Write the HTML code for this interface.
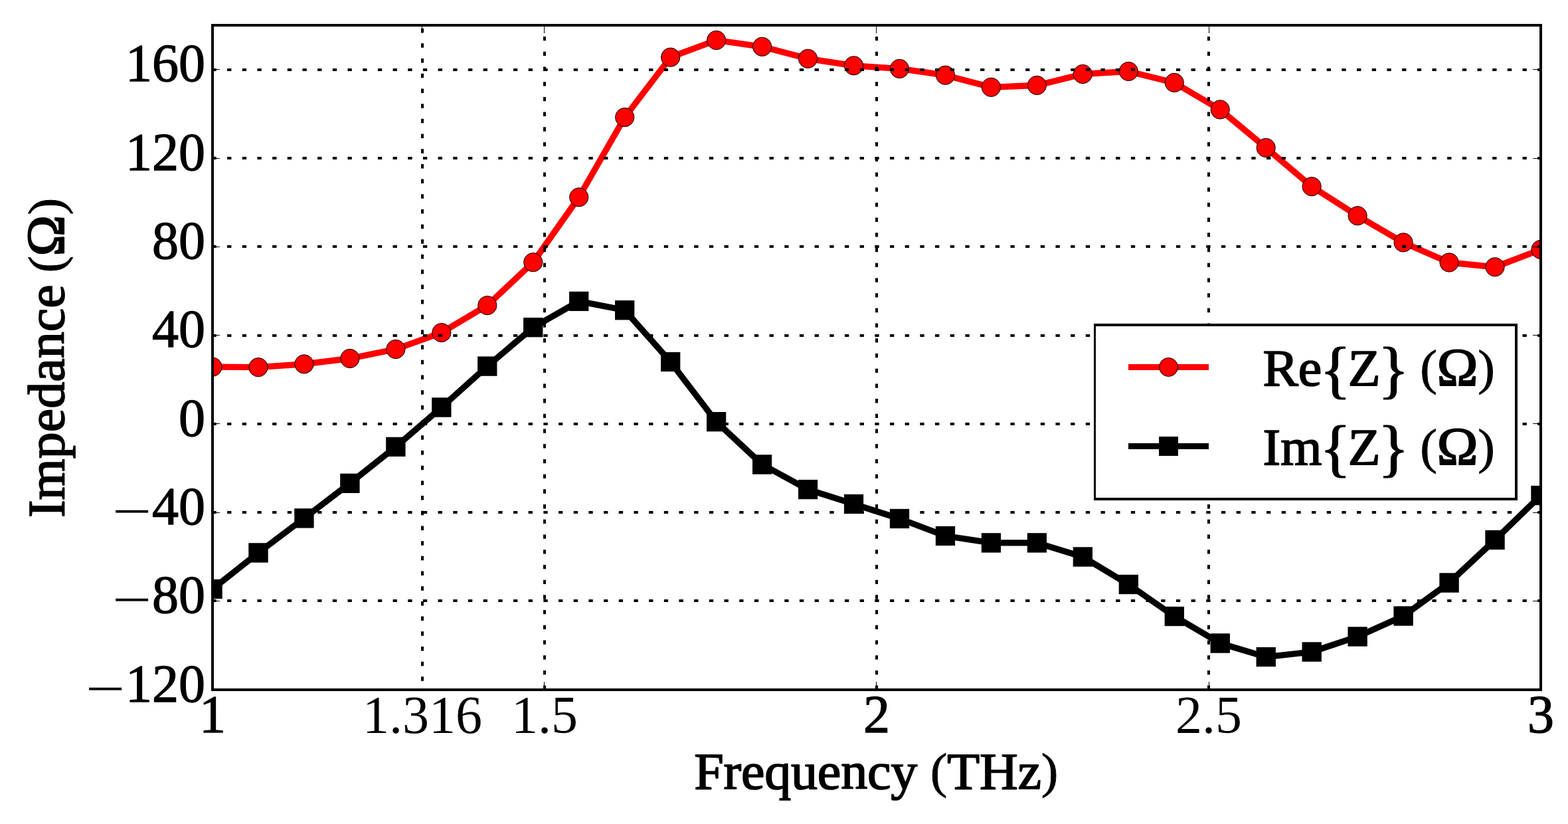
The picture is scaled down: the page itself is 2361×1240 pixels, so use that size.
<!DOCTYPE html>
<html lang="en"><head><meta charset="utf-8"><title>Impedance vs Frequency</title>
<style>
html,body{margin:0;padding:0;background:#fff;}
body{width:2361px;height:1240px;overflow:hidden;}
svg{display:block;}
text{font-family:"Liberation Serif","DejaVu Serif",serif;font-size:80px;fill:#000;}
.b{stroke:#000;stroke-width:1.8px;stroke-linejoin:round;}
.t{stroke:#000;stroke-width:1.3px;stroke-linejoin:round;}
.mn{font-family:"DejaVu Sans","Liberation Sans",sans-serif;font-weight:200;font-size:77px;stroke-width:0.8px;}
.om{font-size:83px;stroke-width:2.2px;}
.br{font-size:99px;stroke-width:1.2px;}
.pa{font-size:77px;stroke-width:0.9px;}
</style></head><body>
<svg width="2361" height="1240" viewBox="0 0 2361 1240">
<rect x="0" y="0" width="2361" height="1240" fill="#ffffff"/>
<defs><clipPath id="ax"><rect x="320" y="38" width="2000" height="1000"/></clipPath></defs>
<g clip-path="url(#ax)">
<polyline points="320,552.2 388.97,552.7 457.93,547.9 526.9,539.5 595.86,525.5 664.83,500.6 733.79,459.6 802.76,394.7 871.72,296.8 940.69,176.5 1009.66,86.2 1078.62,60.5 1147.59,70.3 1216.55,88.3 1285.52,98.8 1354.48,103.4 1423.45,113.2 1492.41,131.3 1561.38,128.4 1630.34,111.5 1699.31,107.4 1768.28,124.4 1837.24,164.9 1906.21,222.4 1975.17,280.7 2044.14,324.7 2113.1,364.9 2182.07,395 2251.03,401.8 2320,375.5" fill="none" stroke="#ff0000" stroke-width="9.3" stroke-linejoin="round" stroke-linecap="butt"/>
<circle cx="320" cy="552.2" r="14.15" fill="#ff0000" stroke="#000" stroke-width="1"/>
<circle cx="388.97" cy="552.7" r="14.15" fill="#ff0000" stroke="#000" stroke-width="1"/>
<circle cx="457.93" cy="547.9" r="14.15" fill="#ff0000" stroke="#000" stroke-width="1"/>
<circle cx="526.9" cy="539.5" r="14.15" fill="#ff0000" stroke="#000" stroke-width="1"/>
<circle cx="595.86" cy="525.5" r="14.15" fill="#ff0000" stroke="#000" stroke-width="1"/>
<circle cx="664.83" cy="500.6" r="14.15" fill="#ff0000" stroke="#000" stroke-width="1"/>
<circle cx="733.79" cy="459.6" r="14.15" fill="#ff0000" stroke="#000" stroke-width="1"/>
<circle cx="802.76" cy="394.7" r="14.15" fill="#ff0000" stroke="#000" stroke-width="1"/>
<circle cx="871.72" cy="296.8" r="14.15" fill="#ff0000" stroke="#000" stroke-width="1"/>
<circle cx="940.69" cy="176.5" r="14.15" fill="#ff0000" stroke="#000" stroke-width="1"/>
<circle cx="1009.66" cy="86.2" r="14.15" fill="#ff0000" stroke="#000" stroke-width="1"/>
<circle cx="1078.62" cy="60.5" r="14.15" fill="#ff0000" stroke="#000" stroke-width="1"/>
<circle cx="1147.59" cy="70.3" r="14.15" fill="#ff0000" stroke="#000" stroke-width="1"/>
<circle cx="1216.55" cy="88.3" r="14.15" fill="#ff0000" stroke="#000" stroke-width="1"/>
<circle cx="1285.52" cy="98.8" r="14.15" fill="#ff0000" stroke="#000" stroke-width="1"/>
<circle cx="1354.48" cy="103.4" r="14.15" fill="#ff0000" stroke="#000" stroke-width="1"/>
<circle cx="1423.45" cy="113.2" r="14.15" fill="#ff0000" stroke="#000" stroke-width="1"/>
<circle cx="1492.41" cy="131.3" r="14.15" fill="#ff0000" stroke="#000" stroke-width="1"/>
<circle cx="1561.38" cy="128.4" r="14.15" fill="#ff0000" stroke="#000" stroke-width="1"/>
<circle cx="1630.34" cy="111.5" r="14.15" fill="#ff0000" stroke="#000" stroke-width="1"/>
<circle cx="1699.31" cy="107.4" r="14.15" fill="#ff0000" stroke="#000" stroke-width="1"/>
<circle cx="1768.28" cy="124.4" r="14.15" fill="#ff0000" stroke="#000" stroke-width="1"/>
<circle cx="1837.24" cy="164.9" r="14.15" fill="#ff0000" stroke="#000" stroke-width="1"/>
<circle cx="1906.21" cy="222.4" r="14.15" fill="#ff0000" stroke="#000" stroke-width="1"/>
<circle cx="1975.17" cy="280.7" r="14.15" fill="#ff0000" stroke="#000" stroke-width="1"/>
<circle cx="2044.14" cy="324.7" r="14.15" fill="#ff0000" stroke="#000" stroke-width="1"/>
<circle cx="2113.1" cy="364.9" r="14.15" fill="#ff0000" stroke="#000" stroke-width="1"/>
<circle cx="2182.07" cy="395" r="14.15" fill="#ff0000" stroke="#000" stroke-width="1"/>
<circle cx="2251.03" cy="401.8" r="14.15" fill="#ff0000" stroke="#000" stroke-width="1"/>
<circle cx="2320" cy="375.5" r="14.15" fill="#ff0000" stroke="#000" stroke-width="1"/>
</g>
<g clip-path="url(#ax)">
<polyline points="320,886.4 388.97,831.9 457.93,779.9 526.9,727.3 595.86,672.4 664.83,613 733.79,551.1 802.76,492.7 871.72,453.4 940.69,466.8 1009.66,544.5 1078.62,634.7 1147.59,699 1216.55,736.6 1285.52,758.5 1354.48,780.5 1423.45,806.5 1492.41,816.9 1561.38,816.9 1630.34,838 1699.31,879.5 1768.28,927.5 1837.24,968 1906.21,988.6 1975.17,981 2044.14,958 2113.1,927 2182.07,877 2251.03,812.5 2320,745.6" fill="none" stroke="#000000" stroke-width="9.3" stroke-linejoin="round" stroke-linecap="butt"/>
<rect x="305.85" y="872.25" width="28.3" height="28.3" fill="#000000" stroke="#000" stroke-width="1"/>
<rect x="374.82" y="817.75" width="28.3" height="28.3" fill="#000000" stroke="#000" stroke-width="1"/>
<rect x="443.78" y="765.75" width="28.3" height="28.3" fill="#000000" stroke="#000" stroke-width="1"/>
<rect x="512.75" y="713.15" width="28.3" height="28.3" fill="#000000" stroke="#000" stroke-width="1"/>
<rect x="581.71" y="658.25" width="28.3" height="28.3" fill="#000000" stroke="#000" stroke-width="1"/>
<rect x="650.68" y="598.85" width="28.3" height="28.3" fill="#000000" stroke="#000" stroke-width="1"/>
<rect x="719.64" y="536.95" width="28.3" height="28.3" fill="#000000" stroke="#000" stroke-width="1"/>
<rect x="788.61" y="478.55" width="28.3" height="28.3" fill="#000000" stroke="#000" stroke-width="1"/>
<rect x="857.57" y="439.25" width="28.3" height="28.3" fill="#000000" stroke="#000" stroke-width="1"/>
<rect x="926.54" y="452.65" width="28.3" height="28.3" fill="#000000" stroke="#000" stroke-width="1"/>
<rect x="995.51" y="530.35" width="28.3" height="28.3" fill="#000000" stroke="#000" stroke-width="1"/>
<rect x="1064.47" y="620.55" width="28.3" height="28.3" fill="#000000" stroke="#000" stroke-width="1"/>
<rect x="1133.44" y="684.85" width="28.3" height="28.3" fill="#000000" stroke="#000" stroke-width="1"/>
<rect x="1202.4" y="722.45" width="28.3" height="28.3" fill="#000000" stroke="#000" stroke-width="1"/>
<rect x="1271.37" y="744.35" width="28.3" height="28.3" fill="#000000" stroke="#000" stroke-width="1"/>
<rect x="1340.33" y="766.35" width="28.3" height="28.3" fill="#000000" stroke="#000" stroke-width="1"/>
<rect x="1409.3" y="792.35" width="28.3" height="28.3" fill="#000000" stroke="#000" stroke-width="1"/>
<rect x="1478.26" y="802.75" width="28.3" height="28.3" fill="#000000" stroke="#000" stroke-width="1"/>
<rect x="1547.23" y="802.75" width="28.3" height="28.3" fill="#000000" stroke="#000" stroke-width="1"/>
<rect x="1616.19" y="823.85" width="28.3" height="28.3" fill="#000000" stroke="#000" stroke-width="1"/>
<rect x="1685.16" y="865.35" width="28.3" height="28.3" fill="#000000" stroke="#000" stroke-width="1"/>
<rect x="1754.13" y="913.35" width="28.3" height="28.3" fill="#000000" stroke="#000" stroke-width="1"/>
<rect x="1823.09" y="953.85" width="28.3" height="28.3" fill="#000000" stroke="#000" stroke-width="1"/>
<rect x="1892.06" y="974.45" width="28.3" height="28.3" fill="#000000" stroke="#000" stroke-width="1"/>
<rect x="1961.02" y="966.85" width="28.3" height="28.3" fill="#000000" stroke="#000" stroke-width="1"/>
<rect x="2029.99" y="943.85" width="28.3" height="28.3" fill="#000000" stroke="#000" stroke-width="1"/>
<rect x="2098.95" y="912.85" width="28.3" height="28.3" fill="#000000" stroke="#000" stroke-width="1"/>
<rect x="2167.92" y="862.85" width="28.3" height="28.3" fill="#000000" stroke="#000" stroke-width="1"/>
<rect x="2236.88" y="798.35" width="28.3" height="28.3" fill="#000000" stroke="#000" stroke-width="1"/>
<rect x="2305.85" y="731.45" width="28.3" height="28.3" fill="#000000" stroke="#000" stroke-width="1"/>
</g>
<g stroke="#000" fill="none">
<line x1="636" y1="1024.85" x2="636" y2="38" stroke-width="4" stroke-dasharray="6.5 16.19"/>
<line x1="820" y1="1037.9" x2="820" y2="38" stroke-width="4" stroke-dasharray="6.3 16.41"/>
<line x1="1320" y1="1037.9" x2="1320" y2="38" stroke-width="4" stroke-dasharray="6.3 16.41"/>
<line x1="1820" y1="1037.9" x2="1820" y2="38" stroke-width="4" stroke-dasharray="6.3 16.41"/>
<line x1="319.4" y1="904" x2="2320" y2="904" stroke-width="4" stroke-dasharray="6.3 16.38"/>
<line x1="319.4" y1="771" x2="2320" y2="771" stroke-width="4" stroke-dasharray="6.3 16.38"/>
<line x1="319.4" y1="638" x2="2320" y2="638" stroke-width="4" stroke-dasharray="6.3 16.38"/>
<line x1="319.4" y1="505" x2="2320" y2="505" stroke-width="4" stroke-dasharray="6.3 16.38"/>
<line x1="319.4" y1="371" x2="2320" y2="371" stroke-width="4" stroke-dasharray="6.3 16.38"/>
<line x1="319.4" y1="238" x2="2320" y2="238" stroke-width="4" stroke-dasharray="6.3 16.38"/>
<line x1="319.4" y1="105" x2="2320" y2="105" stroke-width="4" stroke-dasharray="6.3 16.38"/>
</g>
<g fill="#000">
<rect x="635" y="40" width="1" height="10"/>
<rect x="819" y="40" width="1" height="10"/>
<rect x="819" y="1026" width="1" height="10"/>
<rect x="1319" y="40" width="1" height="10"/>
<rect x="1319" y="1026" width="1" height="10"/>
<rect x="1820" y="40" width="1" height="10"/>
<rect x="1820" y="1026" width="1" height="10"/>
<rect x="322" y="904" width="9" height="1"/>
<rect x="2308" y="904" width="10" height="1"/>
<rect x="322" y="771" width="9" height="1"/>
<rect x="2308" y="771" width="10" height="1"/>
<rect x="322" y="637" width="9" height="1"/>
<rect x="2308" y="637" width="10" height="1"/>
<rect x="322" y="504" width="9" height="1"/>
<rect x="2308" y="504" width="10" height="1"/>
<rect x="322" y="371" width="9" height="1"/>
<rect x="2308" y="371" width="10" height="1"/>
<rect x="322" y="238" width="9" height="1"/>
<rect x="2308" y="238" width="10" height="1"/>
<rect x="322" y="104" width="9" height="1"/>
<rect x="2308" y="104" width="10" height="1"/>
</g>
<rect x="320" y="38" width="2000" height="1000" fill="none" stroke="#000" stroke-width="4"/>
<text x="320" y="1102.2" text-anchor="middle" class="t">1</text>
<text x="636" y="1103.1" text-anchor="middle">1.316</text>
<text x="820" y="1103.1" text-anchor="middle">1.5</text>
<text x="1320" y="1102.2" text-anchor="middle" class="t">2</text>
<text x="1820" y="1103.1" text-anchor="middle">2.5</text>
<text x="2320" y="1102.2" text-anchor="middle" class="t">3</text>
<text class="t" x="309.1" y="1055.7" text-anchor="end"><tspan class="mn" dy="4.8">−</tspan><tspan dx="-2" dy="-4.8">120</tspan></text>
<text class="t" x="309.1" y="922.37" text-anchor="end"><tspan class="mn" dy="4.8">−</tspan><tspan dx="-2" dy="-4.8">80</tspan></text>
<text class="t" x="309.1" y="789.03" text-anchor="end"><tspan class="mn" dy="4.8">−</tspan><tspan dx="-2" dy="-4.8">40</tspan></text>
<text class="t" x="309.1" y="655.7" text-anchor="end">0</text>
<text class="t" x="309.1" y="522.37" text-anchor="end">40</text>
<text class="t" x="309.1" y="389.03" text-anchor="end">80</text>
<text class="t" x="309.1" y="255.7" text-anchor="end">120</text>
<text class="t" x="309.1" y="122.37" text-anchor="end">160</text>
<text class="b" letter-spacing="-0.2" transform="translate(1045.2 1187) scale(1 0.965)">Frequency <tspan class="pa" dy="-2">(</tspan><tspan dy="2">THz</tspan><tspan class="pa" dy="-2">)</tspan></text>
<text class="b" transform="translate(96.2 779.1) rotate(-90) scale(1 0.965)"><tspan x="0">Impedance</tspan><tspan class="pa" x="349.4" dy="-2"> (</tspan><tspan class="om" x="393.5" dy="2">Ω</tspan><tspan class="pa" x="455.5" dy="-2">)</tspan></text>
<rect x="1647" y="487" width="638" height="266" fill="#000"/>
<rect x="1650" y="491" width="631" height="258" fill="#fff"/>
<rect x="1699" y="548" width="121" height="9" fill="#ff0000"/>
<circle cx="1759.5" cy="552.5" r="14" fill="#ff0000" stroke="#000" stroke-width="1"/>
<rect x="1699" y="667" width="121" height="9" fill="#000"/>
<rect x="1745.5" y="657.5" width="28" height="28" fill="#000000" stroke="#000" stroke-width="1"/>
<text class="b" transform="translate(0 580) scale(1 0.965)"><tspan x="1901.5">Re</tspan><tspan class="br" x="1986.9" dy="7.8">{</tspan><tspan x="2029.8" dy="-7.8">Z</tspan><tspan class="br" x="2074.6" dy="7.8">}</tspan><tspan class="pa" x="2119" dy="-9.8"> (</tspan><tspan class="om" x="2163.8" dy="2">Ω</tspan><tspan class="pa" x="2225.3" dy="-2">)</tspan></text>
<text class="b" transform="translate(0 698.6) scale(1 0.965)"><tspan x="1901.5">Im</tspan><tspan class="br" x="1986.9" dy="7.8">{</tspan><tspan x="2029.8" dy="-7.8">Z</tspan><tspan class="br" x="2074.6" dy="7.8">}</tspan><tspan class="pa" x="2119" dy="-9.8"> (</tspan><tspan class="om" x="2163.8" dy="2">Ω</tspan><tspan class="pa" x="2225.3" dy="-2">)</tspan></text>
</svg>
</body></html>
